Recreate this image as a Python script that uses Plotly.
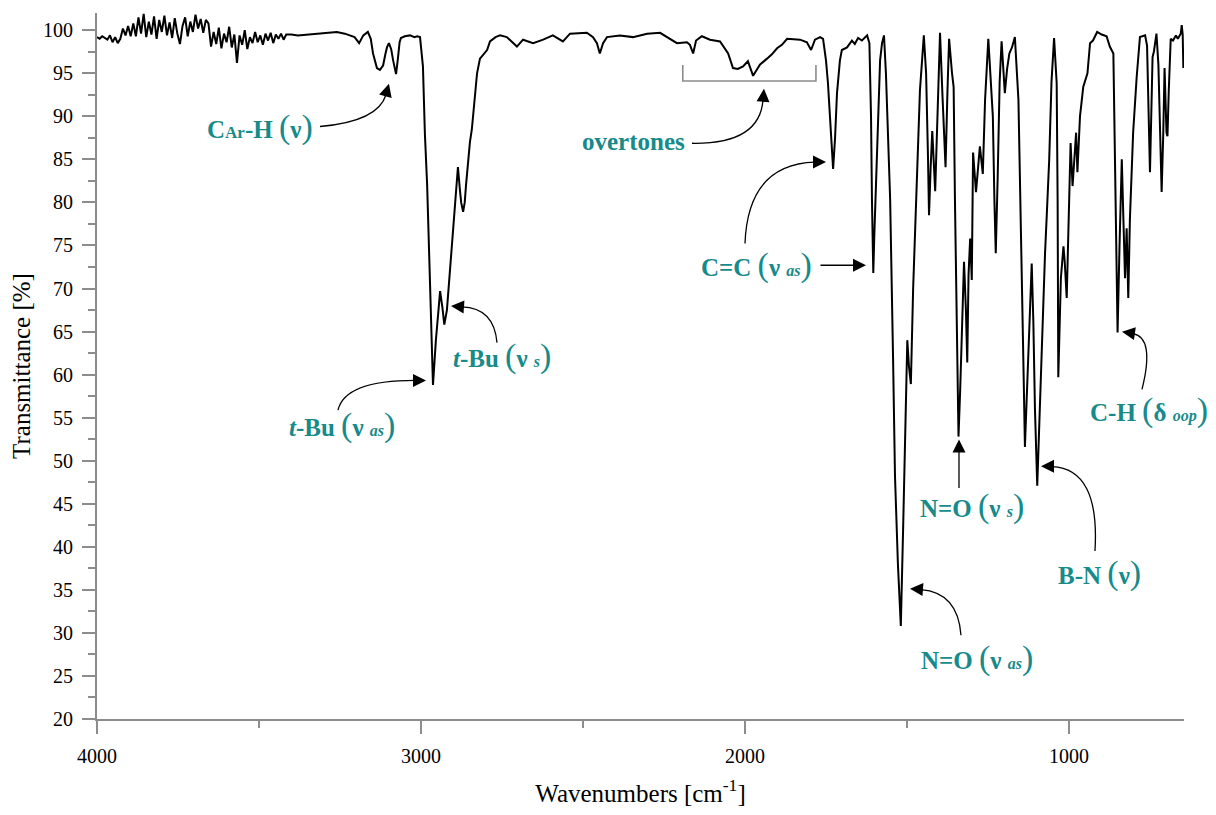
import plotly.graph_objects as go

# ---------------- data ----------------
wavenumber = [
    4000, 3992, 3984, 3976, 3968, 3960, 3952, 3944, 3936, 3928, 3920, 3912, 3904, 3896,
    3888, 3880, 3872, 3864, 3856, 3848, 3840, 3832, 3824, 3816, 3808, 3800, 3792, 3784,
    3776, 3768, 3760, 3752, 3744, 3736, 3728, 3720, 3712, 3704, 3696, 3688, 3680, 3672,
    3664, 3656, 3648, 3640, 3632, 3624, 3616, 3608, 3600, 3592, 3584, 3576, 3568, 3560,
    3552, 3544, 3536, 3528, 3520, 3512, 3504, 3496, 3488, 3480, 3472, 3464, 3456, 3448,
    3440, 3432, 3424, 3416,
    3400, 3380, 3350, 3320, 3290, 3260, 3235, 3220, 3205, 3191, 3178, 3164, 3155, 3148,
    3140, 3136, 3127, 3117, 3110, 3105, 3099, 3092, 3086, 3077, 3071, 3066, 3062, 3050,
    3034, 3020, 3012, 3003, 2994, 2988, 2981, 2972, 2963, 2954, 2947, 2941, 2934, 2928,
    2920, 2914, 2908, 2900, 2893, 2886, 2880, 2876, 2870, 2865, 2861, 2849, 2843, 2833,
    2827, 2818, 2796, 2787, 2770, 2756, 2735, 2704, 2685, 2654, 2623, 2593, 2562, 2540,
    2488, 2469, 2457, 2448, 2438, 2426, 2386, 2346, 2302, 2262, 2241, 2210, 2179, 2170,
    2160, 2151, 2133, 2108, 2077, 2052, 2037, 2022, 2006, 1991, 1975, 1963, 1954, 1932,
    1917, 1901, 1886, 1870, 1846, 1830, 1809, 1796, 1784, 1768, 1759, 1750, 1744, 1735,
    1728, 1722, 1716, 1707, 1701, 1685, 1670, 1661, 1651, 1639, 1623, 1616, 1611, 1608,
    1606, 1604, 1601, 1596, 1590, 1583, 1577, 1571, 1565, 1559, 1552, 1543, 1537, 1528,
    1519, 1512, 1506, 1499, 1494, 1488, 1481, 1470, 1460, 1448, 1441, 1435, 1432, 1427,
    1422, 1413, 1407, 1398, 1390, 1381, 1375, 1370, 1361, 1356, 1352, 1348, 1341, 1336,
    1330, 1324, 1318, 1314, 1310, 1305, 1300, 1296, 1287, 1275, 1266, 1259, 1249, 1242,
    1235, 1230, 1226, 1220, 1214, 1208, 1202, 1198, 1191, 1184, 1176, 1167, 1156, 1151,
    1146, 1140, 1136, 1128, 1120, 1115, 1110, 1105, 1098, 1091, 1083, 1074, 1068, 1061,
    1054, 1046, 1038, 1035, 1033, 1025, 1017, 1013, 1007, 1002, 995, 989, 978, 974,
    966, 956, 943, 935, 926, 913, 899, 884, 874, 863, 858, 853, 850, 844,
    837, 832, 827, 822, 817, 812, 802, 791, 781, 765, 759, 750, 742, 738,
    730, 724, 714, 709, 705, 699, 696, 692, 686, 679, 670, 664, 655, 652,
    649, 647,
]

transmittance = [
    99.2, 99.0, 99.3, 99.1, 98.9, 99.4, 98.6, 99.2, 98.5, 99.0, 100.2, 99.4, 100.5, 99.3,
    100.8, 99.3, 101.5, 99.6, 101.9, 99.2, 101.0, 99.5, 101.6, 99.0, 101.2, 99.8, 101.7, 99.4,
    100.9, 99.1, 101.4, 99.6, 98.4, 100.5, 101.5, 99.3, 101.0, 99.8, 101.8, 100.2, 101.3, 99.7,
    101.2, 100.8, 98.1, 99.8, 98.4, 100.3, 97.9, 99.6, 98.6, 100.4, 98.0, 99.5, 96.2, 99.4,
    98.3, 100.0, 97.8, 99.2, 98.5, 99.8, 98.6, 99.4, 98.3, 99.6, 98.8, 99.7, 98.5, 99.5,
    99.0, 99.6, 98.9, 99.5,
    99.5, 99.4, 99.5, 99.6, 99.7, 99.8, 99.6, 99.4, 99.2, 98.5, 99.4, 99.8, 99.0, 97.3,
    95.9, 95.6, 95.4, 95.9, 97.2, 98.0, 98.5, 97.8, 96.5, 94.9, 96.8, 98.6, 99.1, 99.3,
    99.4, 99.2, 99.3, 99.2, 95.8, 88.0, 82.0, 70.0, 58.8, 64.0, 67.5, 69.7, 67.8, 65.8,
    67.5, 70.5, 74.0, 77.0, 80.5, 84.1, 81.5, 80.0, 78.9, 80.0, 82.0, 87.0, 88.5, 92.5,
    95.0, 96.7, 97.7, 98.7, 99.2, 99.4, 99.2, 98.1, 98.9, 98.5, 98.9, 99.4, 98.7, 99.6,
    99.7, 99.2, 98.5, 97.3, 98.5, 99.2, 99.4, 99.2, 99.6, 99.7, 99.2, 98.5, 98.6, 98.3,
    97.3, 98.8, 99.3, 98.9, 98.7, 97.3, 95.6, 95.5, 95.8, 96.4, 94.7, 95.5, 96.0, 96.7,
    97.2, 97.9, 98.3, 99.0, 98.9, 98.9, 98.6, 97.7, 98.9, 99.2, 99.0, 96.5, 93.9, 88.0,
    83.9, 87.5, 92.7, 96.5, 97.7, 98.0, 98.8, 98.4, 99.1, 98.8, 99.4, 98.5, 90.0, 80.0,
    75.8, 71.8, 76.0, 82.0, 88.0, 96.5, 98.5, 99.4, 95.0, 87.7, 80.4, 62.0, 48.2, 38.0,
    30.8, 42.0, 51.6, 64.0, 61.0, 58.9, 70.0, 82.7, 93.0, 99.4, 95.0, 85.0, 78.5, 84.0,
    88.3, 81.3, 88.0, 99.7, 92.0, 84.1, 93.0, 99.0, 95.0, 93.4, 80.4, 70.0, 52.8, 58.0,
    66.0, 73.1, 67.4, 61.4, 71.6, 75.8, 71.0, 85.8, 81.2, 86.5, 83.3, 91.9, 99.0, 95.0,
    90.0, 80.0, 74.1, 83.0, 94.0, 98.7, 95.5, 92.7, 95.5, 97.3, 98.0, 99.2, 91.9, 82.7,
    75.0, 60.0, 51.6, 60.0, 68.1, 72.9, 66.2, 56.0, 47.1, 55.0, 65.0, 74.0, 79.0, 85.0,
    94.0, 99.1, 93.9, 80.0, 59.7, 71.2, 74.9, 73.0, 68.9, 77.0, 86.9, 81.9, 88.1, 83.5,
    90.0, 93.4, 95.0, 98.5, 98.8, 99.8, 99.5, 99.3, 98.1, 97.3, 86.5, 75.0, 64.9, 75.0,
    85.0, 78.0, 71.2, 77.0, 68.9, 78.0, 88.1, 94.6, 99.2, 99.4, 98.2, 83.5, 96.9, 97.5,
    99.6, 96.0, 81.2, 88.0, 95.6, 88.1, 87.7, 93.0, 99.0, 98.8, 99.4, 99.0, 99.6, 100.6,
    99.5, 95.6,
]

x_tick_labels = ["4000", "3000", "2000", "1000"]
x_tick_values = [4000, 3000, 2000, 1000]
y_tick_values = [20, 25, 30, 35, 40, 45, 50, 55, 60, 65, 70, 75, 80, 85, 90, 95, 100]

# ---------------- styling ----------------
FONT = "Liberation Serif, Times New Roman, Times, DejaVu Serif, serif"
TEAL = "#178a8a"
AXIS_GREY = "#8c8c8c"


def paren(c):
    return f"<span style='font-size:34px'>{c}</span>"


def small_it(t):
    return f"<b><i><span style='font-size:16px'>{t}</span></i></b>"


NU = "<b>ν</b>"
DELTA = "<b>δ</b>"

labels = [
    # text, x (wavenumber), y (transmittance)
    ("<b>C<span style='font-size:17px'>Ar</span>-H</b> " + paren("(") + NU + paren(")"), 3497, 88.8),
    ("<b><i>t</i>-Bu</b> " + paren("(") + NU + " " + small_it("as") + paren(")"), 3244, 54.15),
    ("<b><i>t</i>-Bu</b> " + paren("(") + NU + " " + small_it("s") + paren(")"), 2750, 62.2),
    ("<b>overtones</b>", 2342.6, 87.1),
    ("<b>C=C</b> " + paren("(") + NU + " " + small_it("as") + paren(")"), 1963, 72.7),
    ("<b>N=O</b> " + paren("(") + NU + " " + small_it("s") + paren(")"), 1299.4, 44.7),
    ("<b>N=O</b> " + paren("(") + NU + " " + small_it("as") + paren(")"), 1284, 27.07),
    ("<b>B-N</b> " + paren("(") + NU + paren(")"), 904.3, 36.98),
    ("<b>C-H</b> " + paren("(") + DELTA + " " + small_it("oop") + paren(")"), 753.1, 55.88),
]

# curved leader lines: start, control, end (quadratic bezier), then arrow tip + tail offset (px)
curves = [
    ((3311.7, 88.82), (3132.7, 89.4), (3108.0, 92.51), (3098.8, 93.78), -4, 14),
    ((3256.2, 55.88), (3234.6, 59.33), (3018.5, 59.33), (2984.6, 59.33), -14, 0),
    ((2765.4, 63.71), (2774.7, 67.74), (2873.5, 67.86), (2907.4, 67.97), 14, 1),
    ((2163.6, 86.87), (1953.7, 86.75), (1944.4, 91.94), (1941.4, 93.20), -1, 14),
    ((2000.0, 75.23), (1990.8, 84.45), (1783.9, 84.68), (1750.0, 84.68), -14, 0),
    ((1333.3, 29.72), (1342.6, 34.68), (1456.8, 35.02), (1490.7, 35.14), 14, 1),
    ((919.8, 39.52), (904.3, 49.08), (1052.5, 49.31), (1086.4, 49.37), 14, 0),
    ((774.7, 58.29), (734.6, 64.29), (802.5, 64.75), (836.4, 64.98), 14, 2),
]

# straight arrows: tip and tail offset (px)
straight = [
    ((1626.5, 72.70), -47, 0),
    ((1339.5, 52.45), 0, 50),
]

fig = go.Figure()
fig.add_trace(go.Scatter(
    x=wavenumber, y=transmittance, mode="lines",
    line=dict(color="black", width=2), hoverinfo="skip",
))

shapes = []
for (s, c, e, tip, ax, ay) in curves:
    shapes.append(dict(
        type="path", xref="x", yref="y",
        path=f"M {s[0]},{s[1]} Q {c[0]},{c[1]} {e[0]},{e[1]}",
        line=dict(color="black", width=1.3),
    ))

# overtones bracket
shapes.append(dict(
    type="path", xref="x", yref="y",
    path="M 2192,95.97 L 2192,94.1 L 1781,94.1 L 1781,95.97",
    line=dict(color=AXIS_GREY, width=1.6),
))

annotations = []
for (txt, x, y) in labels:
    annotations.append(dict(
        x=x, y=y, xref="x", yref="y", text=txt, showarrow=False,
        xanchor="center", yanchor="middle",
        font=dict(family=FONT, size=25, color=TEAL),
    ))

for (s, c, e, tip, ax, ay) in curves:
    annotations.append(dict(
        x=tip[0], y=tip[1], xref="x", yref="y", text="",
        showarrow=True, ax=ax, ay=ay, axref="pixel", ayref="pixel",
        arrowhead=2, arrowsize=2.0, arrowwidth=1.3, arrowcolor="black",
    ))

for (tip, ax, ay) in straight:
    annotations.append(dict(
        x=tip[0], y=tip[1], xref="x", yref="y", text="",
        showarrow=True, ax=ax, ay=ay, axref="pixel", ayref="pixel",
        arrowhead=2, arrowsize=2.0, arrowwidth=1.3, arrowcolor="black",
    ))

fig.update_layout(
    width=1216, height=815,
    margin=dict(l=97, r=32, t=13, b=90),
    plot_bgcolor="white", paper_bgcolor="white",
    showlegend=False,
    font=dict(family=FONT, color="black"),
    shapes=shapes,
    annotations=annotations,
)

fig.update_xaxes(
    range=[4000, 645],
    showline=True, linecolor=AXIS_GREY, linewidth=2,
    ticks="outside", ticklen=13, tickwidth=2, tickcolor=AXIS_GREY,
    tickmode="array", tickvals=x_tick_values, ticktext=x_tick_labels,
    minor=dict(ticks="outside", ticklen=7, tickwidth=2, tickcolor=AXIS_GREY,
               tickmode="linear", tick0=0, dtick=500),
    showgrid=False, zeroline=False,
    tickfont=dict(family=FONT, size=20, color="black"),
    ticklabelstandoff=5,
    title=dict(text="Wavenumbers [cm<sup>-1</sup>]", font=dict(family=FONT, size=25, color="black"),
               standoff=18),
)

fig.update_yaxes(
    range=[20, 102],
    showline=True, linecolor=AXIS_GREY, linewidth=2,
    ticks="outside", ticklen=13, tickwidth=2, tickcolor=AXIS_GREY,
    tickmode="array", tickvals=y_tick_values,
    minor=dict(ticks="outside", ticklen=7, tickwidth=2, tickcolor=AXIS_GREY,
               tickmode="linear", tick0=0, dtick=2.5),
    showgrid=False, zeroline=False,
    tickfont=dict(family=FONT, size=20, color="black"),
    ticklabelstandoff=5,
    title=dict(text="Transmittance [%]", font=dict(family=FONT, size=25, color="black"),
               standoff=5),
)

fig.write_html("out.html")
